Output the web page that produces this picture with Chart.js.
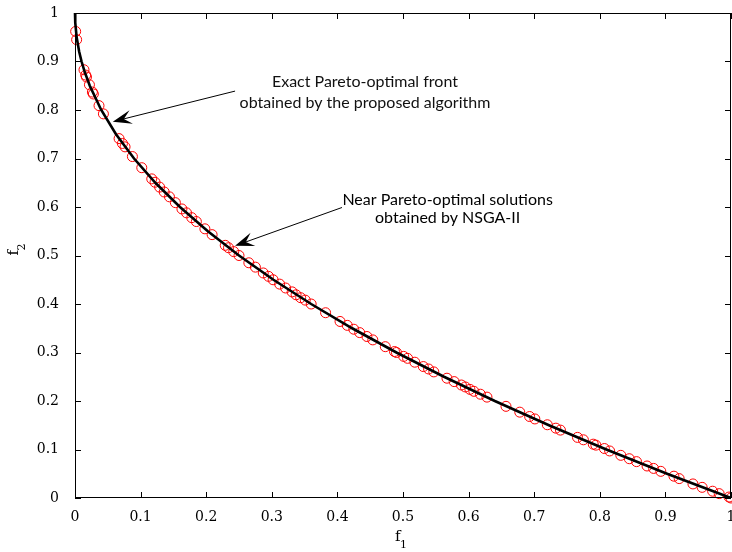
<!DOCTYPE html>
<html>
<head>
<meta charset="utf-8">
<script src="https://cdn.jsdelivr.net/npm/chart.js@4"></script>
<style>
  html, body { margin: 0; padding: 0; background: #fff; }
  canvas { display: block; }
</style>
</head>
<body>
<canvas id="front" width="732" height="552"></canvas>
<script>
// exact front (black line)
const frontF1 = [0, 0.0004, 0.0025, 0.0064, 0.01, 0.0144, 0.0225, 0.04, 0.0625, 0.09, 0.1225,
  0.16, 0.2025, 0.25, 0.3025, 0.36, 0.4225, 0.49, 0.5625, 0.64, 0.7225, 0.81, 0.9025, 1];
const frontF2 = [1, 0.98, 0.95, 0.92, 0.9, 0.88, 0.85, 0.8, 0.75, 0.7, 0.65,
  0.6, 0.55, 0.5, 0.45, 0.4, 0.35, 0.3, 0.25, 0.2, 0.15, 0.1, 0.05, 0];

// NSGA-II solutions (red circles)
const nsgaF1 = [0.001, 0.0025, 0.0137, 0.0163, 0.0175, 0.022, 0.0265, 0.028, 0.0366, 0.0433,
  0.0672, 0.0723, 0.0763, 0.0875, 0.1018, 0.117, 0.122, 0.129, 0.136, 0.144,
  0.153, 0.163, 0.170, 0.178, 0.185, 0.198, 0.209, 0.229, 0.234, 0.242,
  0.250, 0.265, 0.275, 0.287, 0.295, 0.302, 0.312, 0.321, 0.331, 0.337,
  0.344, 0.351, 0.360, 0.382, 0.404, 0.415, 0.425, 0.434, 0.445, 0.454,
  0.473, 0.487, 0.490, 0.501, 0.507, 0.518, 0.531, 0.539, 0.547, 0.567,
  0.578, 0.589, 0.595, 0.602, 0.608, 0.618, 0.628, 0.657, 0.678, 0.693,
  0.701, 0.720, 0.733, 0.740, 0.766, 0.775, 0.790, 0.794, 0.807, 0.815,
  0.832, 0.845, 0.856, 0.872, 0.882, 0.893, 0.913, 0.921, 0.942, 0.956,
  0.972, 0.982, 0.997, 1.0];
const nsgaF2 = [0.962, 0.945, 0.883, 0.872, 0.868, 0.852, 0.837, 0.833, 0.809, 0.792,
  0.741, 0.731, 0.724, 0.704, 0.681, 0.658, 0.651, 0.641, 0.631, 0.621,
  0.609, 0.596, 0.588, 0.578, 0.570, 0.555, 0.543, 0.521, 0.516, 0.508,
  0.500, 0.485, 0.476, 0.464, 0.457, 0.450, 0.441, 0.433, 0.425, 0.419,
  0.413, 0.408, 0.400, 0.382, 0.364, 0.356, 0.348, 0.341, 0.333, 0.326,
  0.312, 0.302, 0.300, 0.292, 0.288, 0.280, 0.271, 0.266, 0.260, 0.247,
  0.240, 0.233, 0.229, 0.224, 0.220, 0.214, 0.208, 0.189, 0.177, 0.168,
  0.163, 0.151, 0.144, 0.140, 0.125, 0.120, 0.111, 0.109, 0.102, 0.097,
  0.088, 0.081, 0.075, 0.066, 0.061, 0.055, 0.045, 0.040, 0.029, 0.022,
  0.014, 0.009, 0.002, 0];

const tickValues = [0, 0.1, 0.2, 0.3, 0.4, 0.5, 0.6, 0.7, 0.8, 0.9, 1];

const notes = [
  { lines: ['Exact Pareto-optimal front', 'obtained by the proposed algorithm'],
    x: 0.442, y: [0.858, 0.815], tail: [0.244, 0.839], tip: [0.0576, 0.776] },
  { lines: ['Near Pareto-optimal solutions', 'obtained by NSGA-II'],
    x: 0.568, y: [0.614, 0.578], tail: [0.407, 0.599], tip: [0.244, 0.520] }
];

const noteFont = '16px Lato';

function arrow(c, x1, y1, x2, y2) {
  const ang = Math.atan2(y2 - y1, x2 - x1);
  const len = 19, half = 7;
  c.beginPath();
  c.moveTo(x1, y1);
  c.lineTo(x2 - Math.cos(ang) * 8, y2 - Math.sin(ang) * 8);
  c.lineWidth = 1;
  c.strokeStyle = '#000';
  c.stroke();
  const bx = x2 - Math.cos(ang) * len, by = y2 - Math.sin(ang) * len;
  const nx = -Math.sin(ang), ny = Math.cos(ang);
  const mx = x2 - Math.cos(ang) * len * 0.6, my = y2 - Math.sin(ang) * len * 0.6;
  c.beginPath();
  c.moveTo(x2, y2);
  c.lineTo(bx + nx * half, by + ny * half);
  c.lineTo(mx, my);
  c.lineTo(bx - nx * half, by - ny * half);
  c.closePath();
  c.fillStyle = '#000';
  c.fill();
}

const extras = {
  id: 'extras',
  afterDraw(chart) {
    const c = chart.ctx;
    const xs = chart.scales.x, ys = chart.scales.y;
    const a = chart.chartArea;
    c.save();
    // box
    c.strokeStyle = '#000';
    c.lineWidth = 1;
    c.beginPath();
    c.moveTo(a.left + 0.5, a.top + 0.5);
    c.lineTo(a.right - 0.5, a.top + 0.5);
    c.lineTo(a.right - 0.5, a.bottom - 0.5);
    c.lineTo(a.left + 0.5, a.bottom - 0.5);
    c.closePath();
    c.stroke();
    // inward ticks
    const tl = 6;
    c.beginPath();
    tickValues.forEach(v => {
      const px = Math.round(xs.getPixelForValue(v)) + 0.5;
      c.moveTo(px, a.bottom); c.lineTo(px, a.bottom - tl);
      c.moveTo(px, a.top); c.lineTo(px, a.top + tl);
      const py = Math.round(ys.getPixelForValue(v)) + 0.5;
      c.moveTo(a.left, py); c.lineTo(a.left + tl, py);
      c.moveTo(a.right, py); c.lineTo(a.right - tl, py);
    });
    c.stroke();

    // axis titles with subscripts
    c.fillStyle = '#000';
    c.textBaseline = 'alphabetic';
    c.textAlign = 'left';
    const cx = (a.left + a.right) / 2;
    c.font = '15px "DejaVu Serif"';
    c.fillText('f', cx - 8, 541);
    c.font = '11px "DejaVu Serif"';
    c.fillText('1', cx - 3, 548);
    c.save();
    c.translate(18, (a.top + a.bottom) / 2);
    c.rotate(-Math.PI / 2);
    c.font = '15px "DejaVu Serif"';
    c.fillText('f', 0, 0);
    c.font = '11px "DejaVu Serif"';
    c.fillText('2', 5, 7);
    c.restore();

    // annotations
    c.font = noteFont;
    c.fillStyle = '#111';
    c.textAlign = 'center';
    c.textBaseline = 'middle';
    notes.forEach(n => {
      n.lines.forEach((t, i) => {
        c.fillText(t, xs.getPixelForValue(n.x), ys.getPixelForValue(n.y[i]));
      });
      arrow(c, xs.getPixelForValue(n.tail[0]), ys.getPixelForValue(n.tail[1]),
        xs.getPixelForValue(n.tip[0]), ys.getPixelForValue(n.tip[1]));
    });
    c.restore();
  }
};

new Chart(document.getElementById('front'), {
  type: 'scatter',
  data: {
    datasets: [
      {
        label: 'Exact front',
        data: frontF1.map((v, i) => ({ x: v, y: frontF2[i] })),
        showLine: true,
        borderColor: '#000',
        borderWidth: 2.6,
        pointRadius: 0,
        tension: 0
      },
      {
        label: 'NSGA-II',
        data: nsgaF1.map((v, i) => ({ x: v, y: nsgaF2[i] })),
        borderColor: '#ff0000',
        backgroundColor: 'rgba(0,0,0,0)',
        borderWidth: 1,
        pointRadius: 5,
        pointStyle: 'circle'
      }
    ]
  },
  options: {
    responsive: false,
    animation: false,
    clip: false,
    layout: { autoPadding: false, padding: { top: 13, right: 1, left: 0, bottom: 0 } },
    plugins: { legend: { display: false }, tooltip: { enabled: false } },
    scales: {
      x: {
        type: 'linear', min: 0, max: 1,
        afterFit: s => { s.height = 54; s.paddingLeft = 0; s.paddingRight = 0; },
        afterBuildTicks: s => { s.ticks = tickValues.map(v => ({ value: v })); },
        grid: { display: false },
        border: { display: false },
        ticks: {
          color: '#000', font: { family: 'DejaVu Serif', size: 14 }, padding: 3,
          maxRotation: 0,
          callback: v => String(Number(v.toFixed(1)))
        }
      },
      y: {
        type: 'linear', min: 0, max: 1,
        afterFit: s => { s.width = 75; s.paddingTop = 0; s.paddingBottom = 0; },
        afterBuildTicks: s => { s.ticks = tickValues.map(v => ({ value: v })); },
        grid: { display: false },
        border: { display: false },
        ticks: {
          color: '#000', font: { family: 'DejaVu Serif', size: 14 }, padding: 8,
          callback: v => String(Number(v.toFixed(1)))
        }
      }
    }
  },
  plugins: [extras]
});
</script>
</body>
</html>
